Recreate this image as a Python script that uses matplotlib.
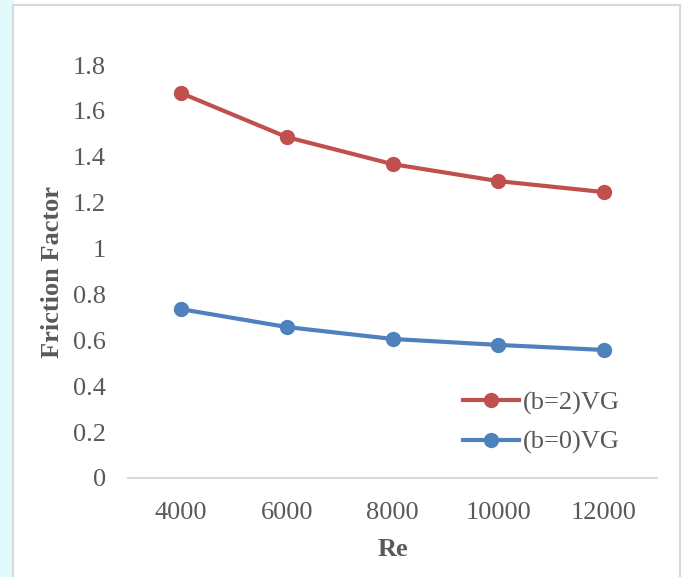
import matplotlib.pyplot as plt
from matplotlib import patches

re_labels = ["4000", "6000", "8000", "10000", "12000"]
f_b2 = [1.678, 1.486, 1.368, 1.294, 1.246]
f_b0 = [0.736, 0.658, 0.606, 0.580, 0.558]
y_ticks = [0, 0.2, 0.4, 0.6, 0.8, 1, 1.2, 1.4, 1.6, 1.8]
y_tick_labels = ["0", "0.2", "0.4", "0.6", "0.8", "1", "1.2", "1.4", "1.6", "1.8"]

plt.rcParams['font.family'] = ['Liberation Serif', 'DejaVu Serif']
gray = '#595959'

fig = plt.figure(figsize=(6.84, 5.77), dpi=100)
W, H = 684, 577

# faint watermark strip left of the chart area
fig.patches.append(patches.Rectangle((0, 0), 13 / W, 1, transform=fig.transFigure,
                                     color='#e3fafa', zorder=0))
# chart area border
fig.patches.append(patches.Rectangle((13 / W, -0.01), (680 - 13) / W, (577 - 5) / H + 0.01,
                                     transform=fig.transFigure, fill=False,
                                     edgecolor='#d9d9d9', linewidth=1.5, zorder=1))

ax = fig.add_axes([128 / W, (H - 478) / H, (657 - 128) / W, (478 - 65) / H])
ax.patch.set_alpha(0)
x = range(len(re_labels))
ax.plot(x, f_b2, color='#C0504D', lw=3, marker='o', ms=10, label='(b=2)VG')
ax.plot(x, f_b0, color='#4F81BD', lw=3, marker='o', ms=10, label='(b=0)VG')

ax.set_xlim(-0.5, len(re_labels) - 0.5)
ax.set_ylim(0, 1.8)
ax.set_xticks(list(x))
ax.set_xticklabels(re_labels)
ax.set_yticks(y_ticks)
ax.set_yticklabels(y_tick_labels)
ax.tick_params(length=0, labelsize=19, colors=gray)
ax.tick_params(axis='x', pad=17)
ax.tick_params(axis='y', pad=16)
for s in ['top', 'right', 'left']:
    ax.spines[s].set_visible(False)
ax.spines['bottom'].set_color('#d9d9d9')
ax.spines['bottom'].set_linewidth(1.5)
ax.spines['bottom'].set_clip_on(False)

ax.set_xlabel('Re', fontsize=19, fontweight='bold', color=gray, labelpad=10)
ax.set_ylabel('Friction Factor', fontsize=19, fontweight='bold', color=gray, labelpad=6)

ax.legend(loc='lower right', bbox_to_anchor=(0.974, 0.0), frameon=False, fontsize=19,
          labelcolor=gray, handlelength=2.1, handletextpad=0.15, labelspacing=0.6)

fig.savefig('out.png', dpi=100)
